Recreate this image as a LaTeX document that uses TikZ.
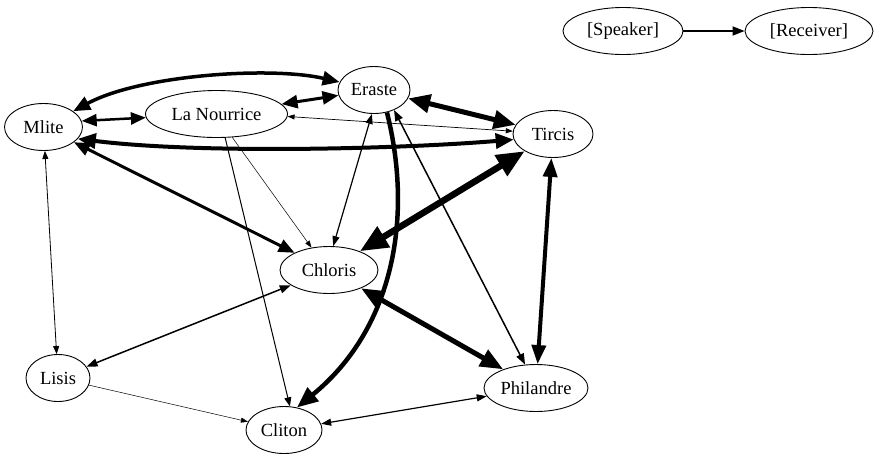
\documentclass[tikz,border=0pt]{standalone}
\usepackage{fontspec}
\setmainfont{Liberation Serif}
\usetikzlibrary{arrows.meta,shapes.geometric}
\begin{document}
\begin{tikzpicture}[x=1pt,y=-1pt,
  actor/.style={draw, ellipse, line width=0.9pt, inner sep=0pt,
    minimum height=47pt, font=\fontsize{18.5}{22}\selectfont},
  rel/.style n args={3}{line width=#1, >={Triangle[length=#2,width=#3]}}
]
\useasboundingbox (0,0) rectangle (878,459);

% characters
\node[actor, minimum width=78pt]  (mlite)     at (43.5,127) {Mlite};
\node[actor, minimum width=142pt] (nourrice)  at (216.5,114) {La Nourrice};
\node[actor, minimum width=72pt]  (eraste)    at (374,90)   {Eraste};
\node[actor, minimum width=80pt]  (tircis)    at (553,134)  {Tircis};
\node[actor, minimum width=98pt]  (chloris)   at (329,270)  {Chloris};
\node[actor, minimum width=64pt]  (lisis)     at (58,378)   {Lisis};
\node[actor, minimum width=104pt] (philandre) at (536,388)  {Philandre};
\node[actor, minimum width=76pt]  (cliton)    at (284,430)  {Cliton};

% legend
\node[actor, minimum width=120pt] (speaker)  at (623,31) {[Speaker]};
\node[actor, minimum width=128pt] (receiver) at (809,31) {[Receiver]};
\draw[rel={1.8pt}{12pt}{9pt}, ->] (speaker) -- (receiver);

% exchanges between characters
\draw[rel={3.5pt}{17pt}{14pt}, <->] (mlite.28) .. controls (140,75) and (270,66) .. (eraste.167);
\draw[rel={3pt}{16pt}{13pt}, <->] (eraste) -- (nourrice);
\draw[rel={2.5pt}{15pt}{12pt}, <->] (mlite.9) -- (nourrice);
\draw[rel={0.7pt}{7pt}{5pt}, <->] (nourrice.-2) -- (tircis.176);
\draw[rel={4pt}{18pt}{15pt}, <->] (mlite.-19) .. controls (200,154) and (400,149) .. (tircis.188);
\draw[rel={5pt}{22pt}{18pt}, <->] (eraste) -- (tircis);
\draw[rel={3pt}{16pt}{13pt}, <->] (mlite) -- (chloris);
\draw[rel={0.5pt}{7pt}{5pt}, ->] (nourrice.-56) -- (chloris.128);
\draw[rel={1.2pt}{10pt}{7pt}, <->] (eraste.-95) -- (chloris.80);
\draw[rel={4.5pt}{21pt}{17pt}, ->] (eraste.-60) .. controls (414,220) and (392,330) .. (cliton.60);
\draw[rel={1.5pt}{11pt}{8pt}, <->] (eraste.-45) -- (philandre.115);
\draw[rel={6.5pt}{28pt}{23pt}, <->] (tircis) -- (chloris);
\draw[rel={4pt}{19pt}{14pt}, <->] (tircis) -- (philandre);
\draw[rel={5pt}{23pt}{18pt}, <->] (chloris) -- (philandre);
\draw[rel={1pt}{9pt}{7pt}, ->] (nourrice.-70) -- (cliton.76);
\draw[rel={0.8pt}{8pt}{6pt}, <->] (mlite) -- (lisis);
\draw[rel={1.5pt}{11pt}{8pt}, <->] (chloris) -- (lisis);
\draw[rel={0.5pt}{7pt}{5pt}, ->] (lisis) -- (cliton);
\draw[rel={1.2pt}{10pt}{7pt}, <->] (cliton) -- (philandre);
\end{tikzpicture}
\end{document}
